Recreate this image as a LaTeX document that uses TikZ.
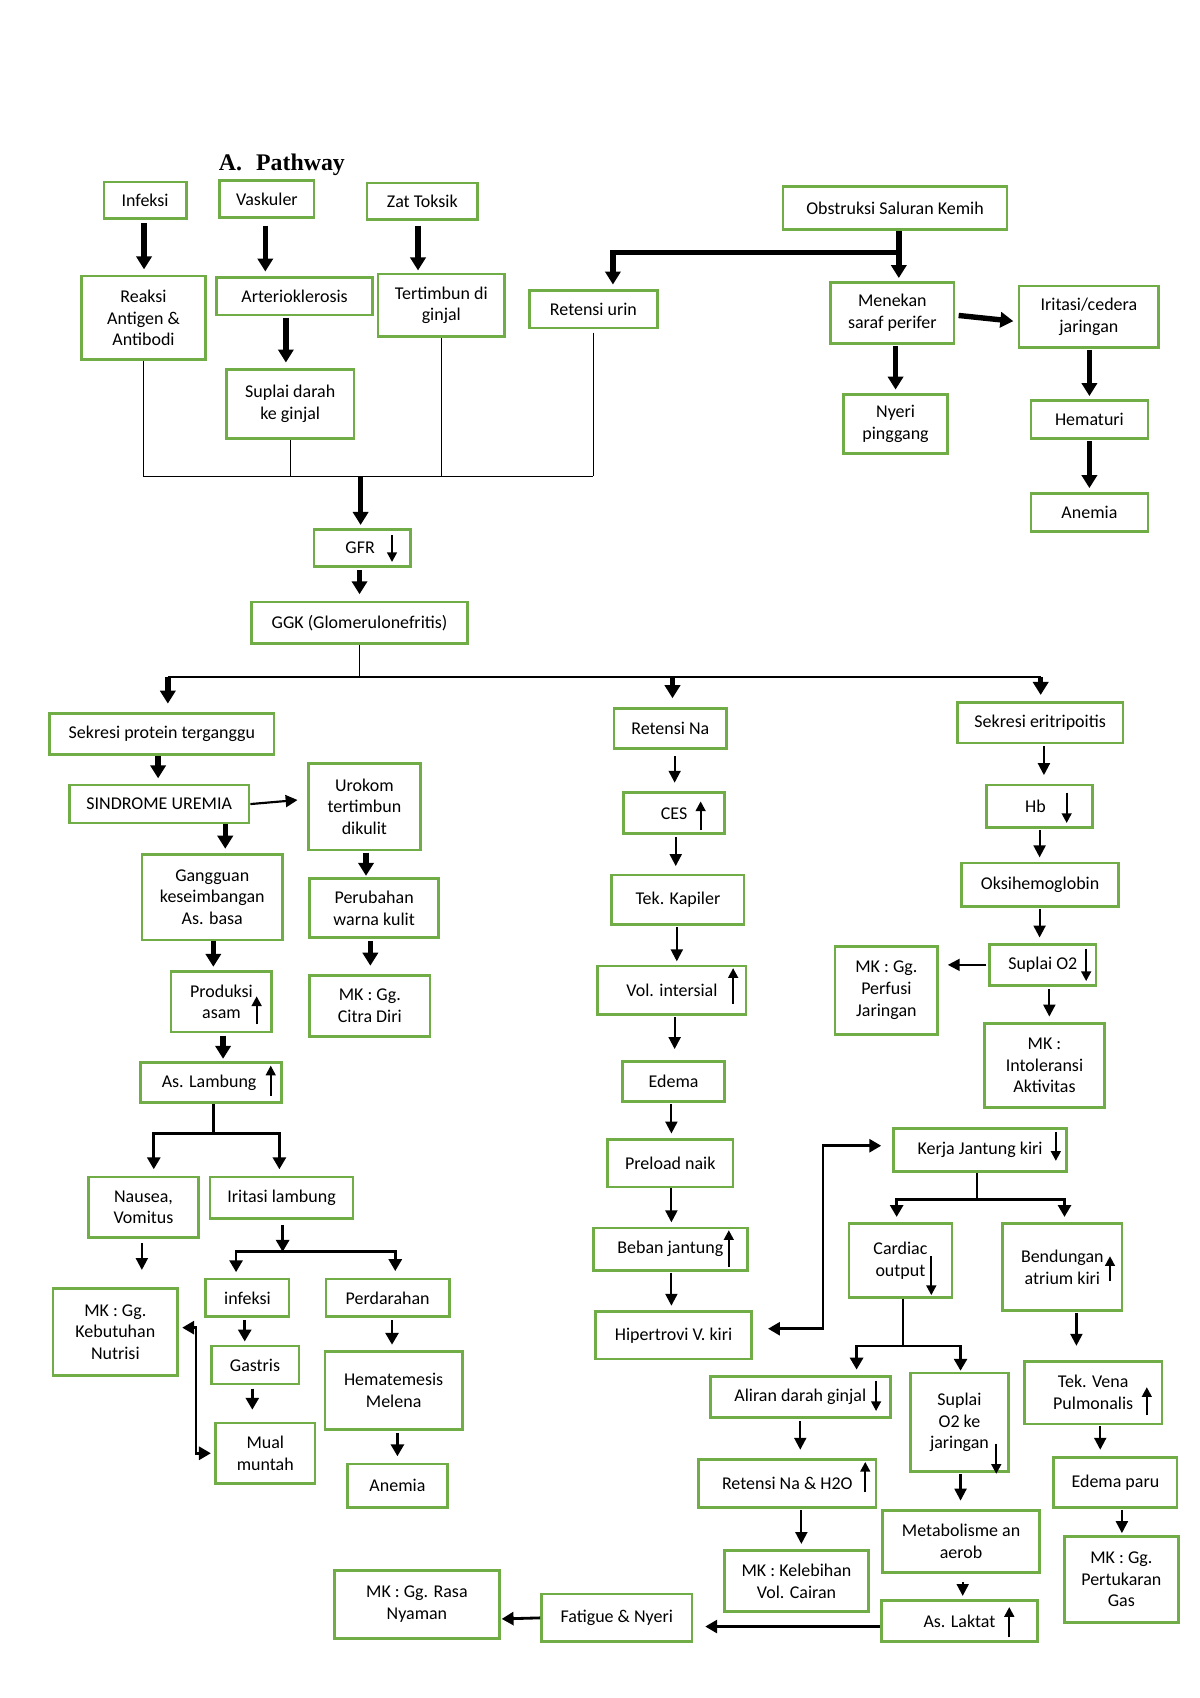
\documentclass[tikz,border=0pt]{standalone}
\usepackage{fontspec}
\setmainfont{Carlito}
\newfontfamily\titlefont{Liberation Serif}
\usetikzlibrary{arrows.meta,fit,calc}
\definecolor{boxgreen}{RGB}{112,173,71}
\newcommand\va[6]{\draw[#1,shorten <=#5pt,shorten >=#6pt] (#2,0 |- #3.south) -- (#2,0 |- #4.north);}
\newcommand\bxn[3]{\node[bx, fit={#2}, label={[lbl]center:{#3}}] (#1) {};}
\begin{document}
\begin{tikzpicture}[x=1pt,y=-1pt,
  bx/.style={draw=boxgreen, line width=2.5pt, inner sep=0pt},
  lbl/.style={inner sep=0pt, align=center, font=\fontsize{16.6}{20}\selectfont},
  tk/.style={line width=5pt, -{Triangle[length=12pt,width=14pt]}},
  md/.style={line width=2.6pt, -{Triangle[length=11pt,width=12pt]}},
  th/.style={line width=2pt, -{Triangle[length=11pt,width=11pt]}},
  dbl/.style={line width=2.6pt, {Triangle[length=11pt,width=12pt]}-{Triangle[length=11pt,width=12pt]}},
  ln/.style={line width=2.2pt},
  hl/.style={line width=1.3pt},
  gl/.style={line width=2pt, -{Triangle[length=9pt,width=9pt]}},
]
\useasboundingbox[fill=white] (0,0) rectangle (1108,1568);

\node[anchor=base west, font=\titlefont\bfseries\fontsize{22}{26}\selectfont, inner sep=0pt] (title) at (202,157) {A.\hspace{13pt}Pathway};

% top rows
\bxn{infeksi}{(96,168)(172,202)}{Infeksi}
\bxn{vaskuler}{(203,167)(290,201)}{Vaskuler}
\bxn{zat}{(339,169)(441,203)}{Zat Toksik}
\bxn{obs}{(723,172)(930,212)}{Obstruksi Saluran Kemih}
\bxn{reaksi}{(75,255)(190,332)}{Reaksi\\Antigen \&\\Antibodi}
\bxn{arterio}{(200,256)(344,291)}{Arterioklerosis}
\bxn{tertimbun}{(349,253)(466,311)}{Tertimbun di\\ginjal}
\bxn{retu}{(489,268)(607,303)}{Retensi urin}
\bxn{menekan}{(767,261)(881,317)}{Menekan\\saraf perifer}
\bxn{iritasic}{(941,264)(1070,321)}{Iritasi/cedera\\jaringan}
\bxn{suplaid}{(209,341)(327,405)}{Suplai darah\\ke ginjal}
\bxn{nyeri}{(779,364)(875,419)}{Nyeri\\pinggang}
\bxn{hematuri}{(952,370)(1060,405)}{Hematuri}
\bxn{anemia1}{(952,456)(1060,491)}{Anemia}
\bxn{gfr}{(290,489)(379,523)}{GFR\hphantom{i}}
\bxn{ggk}{(232,556)(432,594)}{GGK (Glomerulonefritis)}

% left column
\bxn{sekprot}{(46,659)(253,697)}{Sekresi protein terganggu}
\bxn{sindrome}{(64,725)(230,760)}{SINDROME UREMIA}
\bxn{urokom}{(285,705)(388,785)}{Urokom\\tertimbun\\dikulit}
\bxn{gangguan}{(131,789)(261,868)}{Gangguan\\keseimbangan\\As. basa}
\bxn{perubahan}{(286,811)(405,866)}{Perubahan\\warna kulit}
\bxn{citra}{(286,901)(397,957)}{MK : Gg.\\Citra Diri}
\bxn{produksi}{(158,897)(251,953)}{Produksi\\asam}
\bxn{aslambung}{(130,981)(260,1018)}{As. Lambung\hphantom{i}}
\bxn{nausea}{(82,1087)(183,1143)}{Nausea,\\Vomitus}
\bxn{iritasil}{(194,1087)(326,1125)}{Iritasi lambung}
\bxn{mkn}{(49,1190)(164,1270)}{MK : Gg.\\Kebutuhan\\Nutrisi}
\bxn{infeksi2}{(190,1181)(267,1216)}{infeksi}
\bxn{perdarahan}{(301,1181)(415,1216)}{Perdarahan}
\bxn{gastris}{(195,1243)(276,1278)}{Gastris}
\bxn{mual}{(199,1314)(291,1370)}{Mual\\muntah}
\bxn{hemat}{(300,1248)(427,1320)}{Hematemesis\\Melena}
\bxn{anemia2}{(321,1352)(413,1392)}{Anemia}

% middle column
\bxn{retna}{(567,654)(671,691)}{Retensi Na}
\bxn{ces}{(576,732)(669,770)}{CES}
\bxn{tekkap}{(565,808)(687,854)}{Tek. Kapiler}
\bxn{volint}{(552,892)(689,937)}{Vol. intersial}
\bxn{edema}{(575,980)(669,1017)}{Edema}
\bxn{preload}{(561,1052)(677,1096)}{Preload naik}
\bxn{beban}{(548,1134)(690,1173)}{Beban jantung}
\bxn{hip}{(550,1211)(694,1255)}{Hipertrovi V. kiri}

% right column
\bxn{sekeri}{(884,649)(1037,686)}{Sekresi eritripoitis}
\bxn{hb}{(911,725)(1009,764)}{Hb\hphantom{ii}}
\bxn{oksi}{(888,797)(1033,837)}{Oksihemoglobin}
\bxn{suplai}{(914,872)(1012,910)}{Suplai O2}
\bxn{perfusi}{(771,874)(866,955)}{MK : Gg.\\Perfusi\\Jaringan}
\bxn{intol}{(909,945)(1020,1023)}{MK :\\Intoleransi\\Aktivitas}
\bxn{kerja}{(825,1042)(985,1082)}{Kerja Jantung kiri}
\bxn{cardiac}{(784,1130)(879,1198)}{Cardiac\\output}
\bxn{bend}{(926,1130)(1036,1210)}{Bendungan\\atrium kiri}
\bxn{aliran}{(656,1271)(822,1309)}{Aliran darah ginjal}
\bxn{suplai2}{(841,1268)(931,1359)}{Suplai\\O2 ke\\jaringan}
\bxn{tekvena}{(946,1257)(1073,1315)}{Tek. Vena\\Pulmonalis}
\bxn{retna2}{(645,1348)(809,1392)}{Retensi Na \& H2O}
\bxn{edparu}{(973,1346)(1087,1392)}{Edema paru}
\bxn{metab}{(815,1395)(960,1452)}{Metabolisme an\\aerob}
\bxn{mkgas}{(983,1419)(1088,1498)}{MK : Gg.\\Pertukaran\\Gas}
\bxn{mkkel}{(669,1432)(802,1488)}{MK : Kelebihan\\Vol. Cairan}
\bxn{laktat}{(814,1478)(958,1516)}{As. Laktat}
\bxn{fatigue}{(500,1472)(639,1516)}{Fatigue \& Nyeri}
\bxn{mkrasa}{(309,1450)(461,1513)}{MK : Gg. Rasa\\Nyaman}

% ---- connectors: top
\va{tk}{133}{infeksi}{reaksi}{3}{5}
\va{tk}{245}{vaskuler}{arterio}{6}{4}
\va{tk}{386}{zat}{tertimbun}{4}{2}
\va{tk}{264}{arterio}{suplaid}{1}{5}
\va{tk}{827}{menekan}{nyeri}{1}{3}
\va{tk}{1006}{iritasic}{hematuri}{1}{3}
\va{tk}{1006}{hematuri}{anemia1}{1}{4}
\coordinate (oj) at (830,233);
\draw[tk,shorten >=3pt] (oj |- obs.south) -- (oj |- menekan.north);
\draw[tk,shorten >=4pt] (oj) -| (566,0 |- retu.north);
\draw[tk,shorten <=3pt,shorten >=4pt] ([yshift=-2pt]menekan.east) -- ([yshift=-4.5pt]iritasic.west);

\coordinate (bus) at (333,440);
\draw[hl] (reaksi.south) -- (reaksi.south |- bus);
\draw[hl] (suplaid.south) -- (suplaid.south |- bus);
\draw[hl] (tertimbun.south) -- (tertimbun.south |- bus);
\draw[hl,shorten <=3pt] (retu.south) -- (retu.south |- bus);
\draw[hl] (reaksi.south |- bus) -- (retu.south |- bus);
\draw[tk,shorten >=3pt] (bus) -- (bus |- gfr.north);

\va{tk}{332}{gfr}{ggk}{2}{6}
\coordinate (gj) at (332,625);
\draw[hl] (ggk.south) -- (gj);
\draw[hl] (155,0 |- gj) -- (961,0 |- gj);
\draw[tk,shorten >=8pt] (155,0 |- gj) -- (155,0 |- sekprot.north);
\draw[tk,shorten >=8pt] (621,0 |- gj) -- (621,0 |- retna.north);
\draw[tk,shorten >=6pt] (961,0 |- gj) -- (961,0 |- sekeri.north);

% ---- left column
\va{tk}{146}{sekprot}{sindrome}{0}{5}
\draw[th,shorten >=9pt] (sindrome.east) -- ([yshift=7pt]urokom.west);
\va{tk}{208}{sindrome}{gangguan}{0}{4}
\va{tk}{338}{urokom}{perubahan}{1}{1}
\va{tk}{342}{perubahan}{citra}{2}{8}
\va{tk}{197}{gangguan}{produksi}{0}{3}
\va{tk}{206}{produksi}{aslambung}{2}{2}
\coordinate (alj) at (197,1047);
\draw[ln] (alj |- aslambung.south) -- (alj);
\draw[md,shorten >=6pt] (alj) -| (142,0 |- nausea.north);
\draw[md,shorten >=6pt] (alj) -| (258,0 |- iritasil.north);
\va{th}{131}{nausea}{mkn}{4}{16}
\coordinate (ilj) at (261,1156);
\draw[md,shorten <=5pt] (ilj |- iritasil.south) -- (ilj);
\draw[md,shorten >=5pt] (ilj) -| (218,0 |- infeksi2.north);
\draw[md,shorten >=6pt] (ilj) -| (365,0 |- perdarahan.north);
\va{md}{226}{infeksi2}{gastris}{2}{3}
\va{md}{233}{gastris}{mual}{3}{11}
\va{md}{362}{perdarahan}{hemat}{2}{5}
\va{md}{367}{hemat}{anemia2}{2}{6}
\coordinate (dv1) at (181,1226);
\coordinate (dv2) at (181,1342);
\draw[dbl,shorten <=3pt,shorten >=3pt] (mkn.east |- dv1) -- (dv1) -- (dv2) -- (mual.west |- dv2);

% ---- middle column
\va{th}{623}{retna}{ces}{6}{8}
\va{th}{624}{ces}{tekkap}{2}{7}
\va{th}{625}{tekkap}{volint}{1}{3}
\va{th}{623}{volint}{edema}{1}{10}
\va{th}{620}{edema}{preload}{1}{4}
\va{th}{620}{preload}{beban}{0}{4}
\va{th}{620}{beban}{hip}{1}{4}
\coordinate (hk1) at (760,1227);
\coordinate (hk2) at (760,1058);
\draw[dbl,shorten <=14pt,shorten >=10pt] (hip.east |- hk1) -- (hk1) -- (hk2) -- (kerja.west |- hk2);

% ---- right column
\va{th}{964}{sekeri}{hb}{2}{8}
\va{th}{960}{hb}{oksi}{1}{4}
\va{th}{960}{oksi}{suplai}{1}{5}
\draw[th,shorten <=2pt,shorten >=8pt] (suplai.west) -- (perfusi.east |- suplai.west);
\va{th}{969}{suplai}{intol}{2}{5}
\coordinate (kj) at (902,1108);
\draw[ln] (kj |- kerja.south) -- (kj);
\draw[md,shorten >=5pt] (kj) -| (828,0 |- cardiac.north);
\draw[md,shorten >=5pt] (kj) -| (983,0 |- bend.north);
\coordinate (cj) at (834,1243);
\draw[hl] (cj |- cardiac.south) -- (cj);
\draw[md,shorten >=5pt] (cj) -| (791,0 |- aliran.north);
\draw[md,shorten >=1pt] (cj) -| (887,0 |- suplai2.north);
\va{th}{994}{bend}{tekvena}{1}{13}
\va{th}{739}{aliran}{retna2}{2}{8}
\va{th}{887}{suplai2}{metab}{1}{8}
\va{th}{1016}{tekvena}{edparu}{1}{6}
\va{th}{1036}{edparu}{mkgas}{1}{2}
\va{th}{740}{retna2}{mkkel}{1}{5}
\va{th}{889}{metab}{laktat}{8}{3}
\draw[md,shorten >=11pt] ([yshift=-5pt]laktat.west) -- ([yshift=-8pt]fatigue.east);
\draw[md,shorten >=1pt] (fatigue.west) -- ([yshift=-13.5pt]mkrasa.east);

% ---- small up/down indicator arrows inside boxes
\draw[gl] (362,494) -- (362,519);
\draw[gl] (237,946) -- (237,920);
\draw[gl] (250,1012) -- (250,984);
\draw[gl] (647,766) -- (647,740);
\draw[gl] (677,927) -- (677,894);
\draw[gl] (985,732) -- (985,760);
\draw[gl] (1003,876) -- (1003,906);
\draw[gl] (975,1045) -- (975,1072);
\draw[gl] (673,1170) -- (673,1136);
\draw[gl] (860,1160) -- (860,1196);
\draw[gl] (1025,1183) -- (1025,1160);
\draw[gl] (809,1275) -- (809,1303);
\draw[gl] (920,1333) -- (920,1361);
\draw[gl] (1059,1307) -- (1059,1281);
\draw[gl] (799,1378) -- (799,1350);
\draw[gl] (932,1512) -- (932,1484);
\end{tikzpicture}
\end{document}
